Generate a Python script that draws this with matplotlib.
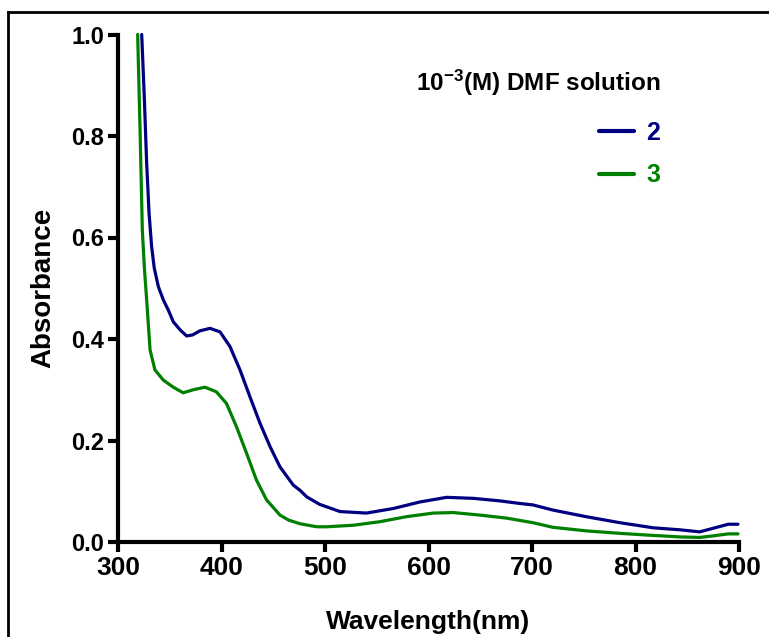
import matplotlib
matplotlib.use("Agg")
import matplotlib.pyplot as plt
from matplotlib.lines import Line2D

plt.rcParams['font.family'] = ['Liberation Sans', 'DejaVu Sans']
plt.rcParams['font.weight'] = 'bold'
plt.rcParams['mathtext.fontset'] = 'custom'
plt.rcParams['mathtext.rm'] = 'Liberation Sans:bold'
plt.rcParams['mathtext.bf'] = 'Liberation Sans:bold'
plt.rcParams['mathtext.default'] = 'bf'

# Series 2 (blue)
wl_2 = [322.9, 325.4, 327.7, 330, 332.5, 335, 339, 343.8, 348.6, 353.4, 360, 366.3, 372, 379,
        388.9, 398.6, 408.2, 417.9, 427.5, 437.2, 446.9, 456.5, 469.4, 475.8, 482.3, 495,
        514.5, 540, 566, 592, 617.5, 643.4, 669, 688, 701, 720, 752, 785, 817, 843, 862,
        875, 889.6, 899]
abs_2 = [1.0, 0.877, 0.746, 0.648, 0.582, 0.54, 0.503, 0.477, 0.457, 0.434, 0.418, 0.406, 0.408,
         0.416, 0.421, 0.414, 0.385, 0.339, 0.286, 0.234, 0.188, 0.148, 0.112, 0.102, 0.089, 0.074,
         0.060, 0.057, 0.066, 0.079, 0.088, 0.086, 0.081, 0.076, 0.073, 0.063, 0.050, 0.038,
         0.028, 0.024, 0.020, 0.027, 0.035, 0.035]

# Series 3 (green)
wl_3 = [319, 321.3, 323.5, 325.5, 327.7, 331, 335.7, 343.8, 353.4, 363, 372.7, 384, 395,
        404.8, 414.5, 424.2, 433.8, 443.5, 456.5, 465, 475.8, 492, 501.6, 527.4, 553, 579,
        604.6, 624, 649.8, 675.6, 701, 720, 752, 785, 817, 843, 862, 875, 889.6, 899]
abs_3 = [1.0, 0.812, 0.615, 0.54, 0.477, 0.378, 0.339, 0.319, 0.305, 0.294, 0.300, 0.305, 0.296,
         0.273, 0.227, 0.175, 0.122, 0.083, 0.053, 0.043, 0.036, 0.030, 0.030, 0.033, 0.040, 0.050,
         0.057, 0.058, 0.053, 0.047, 0.038, 0.029, 0.022, 0.017, 0.013, 0.010, 0.009, 0.012,
         0.016, 0.016]

x_ticks = [300, 400, 500, 600, 700, 800, 900]
y_ticks = [0.0, 0.2, 0.4, 0.6, 0.8, 1.0]
labels = ['2', '3']
colors = ['#000080', '#008000']

fig = plt.figure(figsize=(7.69, 6.37), dpi=100)
ax = fig.add_axes([118/769, 1 - 542/637, (739-118)/769, (542-34.5)/637])

ax.plot(wl_2, abs_2, color=colors[0], lw=2.3, label=labels[0], clip_on=False,
        solid_joinstyle='round', solid_capstyle='round')
ax.plot(wl_3, abs_3, color=colors[1], lw=2.3, label=labels[1], clip_on=False,
        solid_joinstyle='round', solid_capstyle='round')

ax.set_xlim(300, 900)
ax.set_ylim(0, 1.0)
ax.set_xticks(x_ticks)
ax.set_yticks(y_ticks)
ax.set_xticklabels([str(v) for v in x_ticks], fontsize=19, fontweight='bold')
ax.set_yticklabels([f"{v:.1f}" for v in y_ticks], fontsize=17, fontweight='bold')
for s in ['top', 'right']:
    ax.spines[s].set_visible(False)
for s in ['left', 'bottom']:
    ax.spines[s].set_linewidth(3)
ax.tick_params(axis='both', direction='out', length=7, width=3, pad=3)

ax.set_xlabel('Wavelength(nm)', fontsize=19, fontweight='bold', labelpad=22)
ax.set_ylabel('Absorbance', fontsize=20, fontweight='bold', labelpad=11)

leg = ax.legend(title=r'10$^{-3}$(M) DMF solution', frameon=False, loc='upper right',
                bbox_to_anchor=(0.909, 0.978), alignment='right', labelcolor='linecolor',
                prop={'size': 18, 'weight': 'bold'}, title_fontproperties={'size': 17.5, 'weight': 'bold'},
                handlelength=1.4, handletextpad=0.5, labelspacing=0.75)
leg._legend_box.sep = 16
for h in leg.legend_handles:
    h.set_linewidth(3)

# figure frame (top and left edges visible)
fig.add_artist(Line2D([8/769, 1.0], [1 - 11.5/637, 1 - 11.5/637], transform=fig.transFigure,
                      color='black', lw=2))
fig.add_artist(Line2D([8/769, 8/769], [0, 1 - 11.5/637], transform=fig.transFigure,
                      color='black', lw=2))

fig.savefig('out.png', dpi=100)
